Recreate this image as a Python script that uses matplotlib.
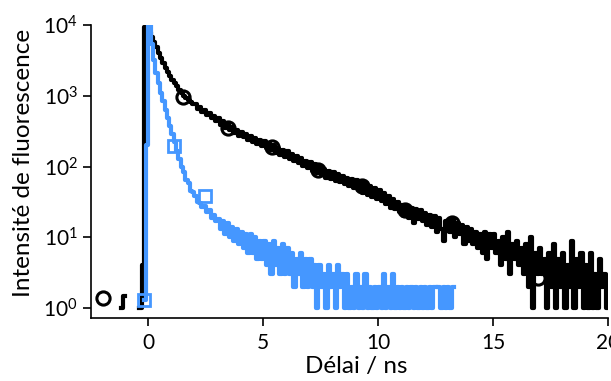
import matplotlib
matplotlib.use("Agg")
import matplotlib.pyplot as plt
from matplotlib.ticker import NullLocator
import numpy as np

nan = np.nan

# histogramme de déclin (pas de 0.1 ns), molécule (noir)
black_start = -1.2
black_counts = [
    1, 1.5, nan, nan, nan, nan, nan, nan, 1, 4,          # -1.2 .. -0.3
    9300, 9000,                                            # -0.2, -0.1
    8000, 6800, 5800, 4900, 4100, 3400, 2900, 2500, 2150, 1900,
    1700, 1520, 1370, 1230, 1110, 1000, 930, 870, 810, 765,
    763, 649, 700, 592, 636, 540, 578, 489, 525, 442,
    481, 391, 437, 354, 397, 324, 363, 294, 332, 271,
    313, 258, 292, 241, 273, 225, 256, 211, 240, 198,
    231, 183, 216, 170, 201, 158, 185, 146, 173, 137,
    165, 130, 152, 120, 141, 112, 131, 103, 121, 95,
    116, 88, 108, 81, 100, 76, 93, 70, 87, 67,
    84, 63, 78, 60, 74, 56, 69, 53, 66, 50,
    64, 46, 61, 43, 58, 40, 53, 37, 50, 35,
    47, 33, 43, 30, 39, 26, 35, 25, 32, 23,
    29, 20, 27, 19, 26, 16, 25, 18, 24, 17,
    22, 15, 21, 14, 20, 12, 19, 13, 9, 17,
    17, 12, 18, 10, 16, 11, 15, 8, 14, 9,
    13, 8, 12, 7, 11, 6, 12, 5, 11, 7,
    11, 6, 9, 4, 10, 5, 12, 3, 8, 5,
    9, 4, 7, 3, 8, 2, 10, 1, 6, 3,
    7, 3, 5, 1, 6, 2, 8, 1, 5, 2,
    6, 1, 4, 2, 9, 1, 5, 2, 6, 1,
    4, 1, 6, 1, 3, 1, 5, 2, 3, 1,
]

# réponse instrumentale (bleu)
blue_start = -0.2
blue_counts = [
    1.3, 200,
    10000, 5500, 3200, 2100, 1500, 1100, 850, 640, 490, 380,
    290, 220, 168, 128, 100, 84, 64, 58, 45, 44,
    39, 32, 31, 27, 28, 23, 24, 19, 21, 17,
    18, 13, 17, 11, 16, 10, 14, 9, 13, 8,
    12, 7, 11, 6, 11, 6, 10, 5, 9, 5,
    9, 4, 8, 3, 9, 4, 7, 3, 8, 3,
    7, 3, 6, 2, 5, 3, 6, 2, 5, 2,
    5, 2, 4, 1, 4, 2, 3, 1, 4, 2,
    3, 1, 4, 2, 3, 1, 3, 1, 2, 1,
    3, 1, 2, 1, 3, 1, 2, 1, 2, 1,
    2, 1, 3, 1, 2, 1, 3, 1, 2, 1,
    2, 1, 2, 1, 2, 1, 2, 1, 2, 1,
    2, 1, 2, 1, 2, nan, 2, 1, 2, 1,
    2, 1, 2,
]
bin_width = 0.1

# marqueurs
circle_t = [-2.0, 1.52, 3.48, 5.39, 7.39, 9.3, 11.17, 13.2, 16.96]
circle_v = [1.4, 960, 350, 190, 89, 53, 24, 16, 2.7]
square_t = [-0.2, 1.09, 2.48]
square_v = [1.3, 195, 39]

blue = '#4597ff'

plt.rcParams['font.family'] = ['Lato', 'DejaVu Sans']
plt.rcParams['mathtext.fontset'] = 'custom'
plt.rcParams['mathtext.rm'] = 'Lato'
plt.rcParams['mathtext.it'] = 'Lato:italic'
plt.rcParams['mathtext.bf'] = 'Lato:bold'


def edges(start, counts):
    t = start + bin_width * np.arange(len(counts) + 1)
    y = np.append(np.array(counts, dtype=float), counts[-1])
    return t, y


fig = plt.figure(figsize=(6.11, 3.81), dpi=100)
ax = fig.add_axes([0.149, 0.165, 0.846, 0.769])

t, y = edges(black_start, black_counts)
ax.plot(t, y, drawstyle='steps-post', color='black', lw=3.0)
ax.plot(circle_t, circle_v, 'o', ms=9.5, mfc='none', mec='black', mew=2.2)

t, y = edges(blue_start, blue_counts)
ax.plot(t, y, drawstyle='steps-post', color=blue, lw=3.0)
ax.plot(square_t, square_v, 's', ms=8, mfc='none', mec=blue, mew=2.0)

ax.set_yscale('log')
ax.set_xlim(-2.5, 20)
ax.set_ylim(0.72, 1e4)
ax.set_xticks([0, 5, 10, 15, 20])
ax.set_yticks([1, 10, 100, 1000, 10000])
ax.yaxis.set_minor_locator(NullLocator())

for s in ['top', 'right']:
    ax.spines[s].set_visible(False)
for s in ['left', 'bottom']:
    ax.spines[s].set_linewidth(1.2)
ax.tick_params(direction='out', length=6, width=1.2, labelsize=15, color='black')
ax.tick_params(axis='x', pad=5)

ax.set_xlabel('Délai / ns', fontsize=17.5)
ax.set_ylabel('Intensité de fluorescence', fontsize=17.5)
ax.xaxis.set_label_coords(0.513, -0.13)
ax.yaxis.set_label_coords(-0.11, 0.53)

plt.savefig('out.png', dpi=100)
